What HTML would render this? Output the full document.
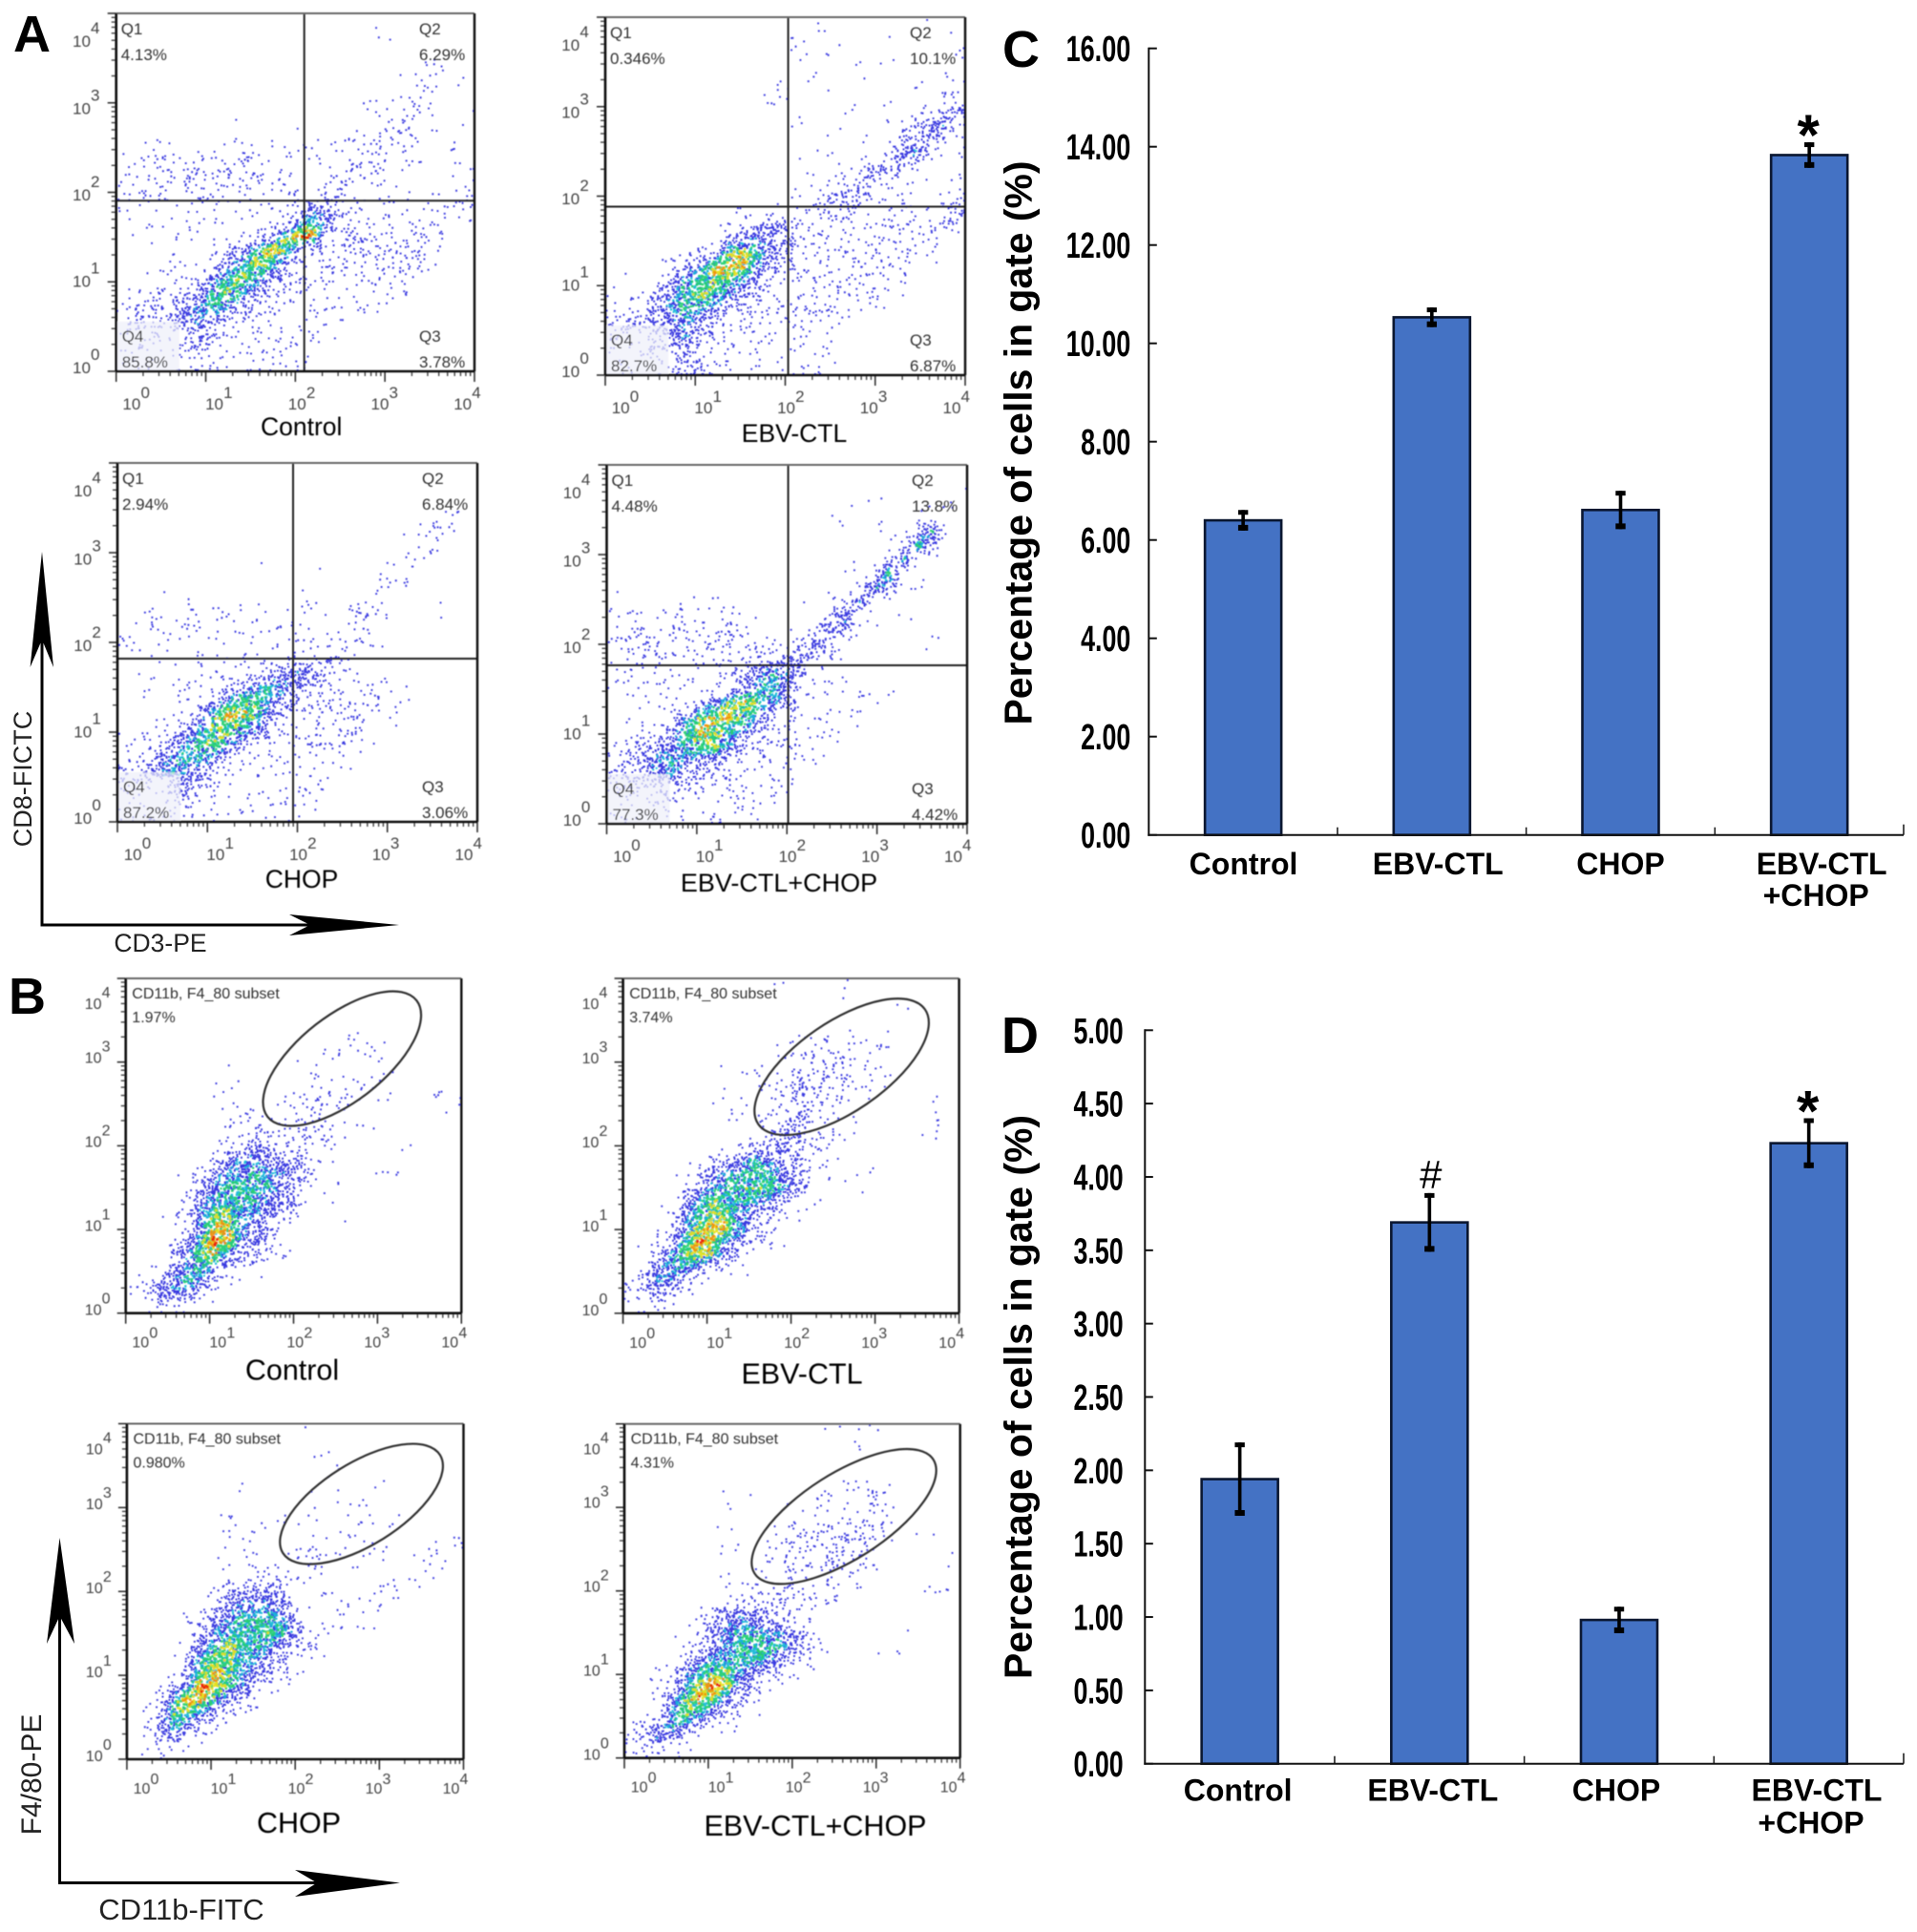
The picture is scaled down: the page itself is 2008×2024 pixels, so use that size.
<!DOCTYPE html>
<html lang="en">
<head>
<meta charset="utf-8">
<title>Flow cytometry panels and percentage bar charts</title>
<style>
html,body{margin:0;padding:0;background:#fff}
svg{display:block}
text{font-family:"Liberation Sans",Arial,sans-serif}
</style>
</head>
<body>
<svg id="figure" xmlns="http://www.w3.org/2000/svg" width="2008" height="2024" viewBox="0 0 2008 2024">
  <defs><filter id="soft" x="-5%" y="-5%" width="110%" height="110%"><feGaussianBlur stdDeviation="0.5"/></filter></defs>
  <rect width="2008" height="2024" fill="#fff"/>
  <text x="14" y="54" font-size="54" font-weight="700" fill="#000">A</text>
  <text x="9" y="1062" font-size="54" font-weight="700" fill="#000">B</text>
  <text x="1050" y="70" font-size="54" font-weight="700" fill="#000">C</text>
  <text x="1049" y="1103" font-size="54" font-weight="700" fill="#000">D</text>

  <g id="flow-plots" filter="url(#soft)"></g>

  <g fill="#000" stroke="none">
    <rect x="42.5" y="670" width="3" height="300"/>
    <rect x="42.5" y="967.5" width="283" height="3"/>
    <polygon points="44,578 56,699 44,670 31.6,699"/>
    <polygon points="418,969 303,958 325,969 303,980"/>
    <rect x="61" y="1693" width="3" height="281"/>
    <rect x="61" y="1971" width="271" height="3"/>
    <polygon points="62.5,1611 78,1722 62.5,1693 49,1722"/>
    <polygon points="419,1972.5 309,1959 332,1972.5 309,1987"/>
  </g>
  <text transform="translate(33,816) rotate(-90)" text-anchor="middle" font-size="27" fill="#222">CD8-FICTC</text>
  <text x="168" y="997" text-anchor="middle" font-size="26.5" fill="#222">CD3-PE</text>
  <text transform="translate(43,1859) rotate(-90)" text-anchor="middle" font-size="30" fill="#222">F4/80-PE</text>
  <text x="190" y="2011" text-anchor="middle" font-size="31" fill="#222">CD11b-FITC</text>

  <text transform="translate(1080.7,464) rotate(-90)" text-anchor="middle" font-size="41" font-weight="700" fill="#000" textLength="591" lengthAdjust="spacingAndGlyphs">Percentage of cells in gate (%)</text>
  <text transform="translate(1080.7,1463.5) rotate(-90)" text-anchor="middle" font-size="41" font-weight="700" fill="#000" textLength="591" lengthAdjust="spacingAndGlyphs">Percentage of cells in gate (%)</text>
  <g id="chart-c"></g>
  <g id="chart-d"></g>
</svg>
<script>
// ---------- Bar chart data ----------
const categories = ['Control', 'EBV-CTL', 'CHOP', 'EBV-CTL +CHOP'];
const chartCValues = [6.40, 10.53, 6.61, 13.83];
const chartCErrors = [0.21, 0.20, 0.39, 0.26];
const chartCTicks = ['0.00', '2.00', '4.00', '6.00', '8.00', '10.00', '12.00', '14.00', '16.00'];
const chartCMarks = ['', '', '', '*'];
const chartDValues = [1.94, 3.69, 0.98, 4.23];
const chartDErrors = [0.25, 0.20, 0.09, 0.17];
const chartDTicks = ['0.00', '0.50', '1.00', '1.50', '2.00', '2.50', '3.00', '3.50', '4.00', '4.50', '5.00'];
const chartDMarks = ['', '#', '', '*'];

// ---------- Flow plot data (density level per cell, top row first, 0-9) ----------
const logTickLabels = ['0', '1', '2', '3', '4'];
const quadrantNames = ['Q1', 'Q2', 'Q3', 'Q4'];
const densityA1 = [
"0000000000000000000000000","0000000000000000001000000","0000000000000000000000000",
"0000000000000000000001100","0000000000000000000011110","0000000000000000000012101",
"0000000000000000011122001","0000000010000001012220101","0000000000001000112211000",
"0011111121111101122210110","1122222222211111222211011","1122232222221112311110011",
"1122222222112123100110102","1111111111112443211111112","1011121111124652222222110",
"1001111112369932322222200","0011111236884222322322100","0001112467743222222222000",
"0011124676432222222210000","1122236764322111112100000","2332456542211111111000000",
"2333454322111111000000000","2221243111111111000000000","1111232111111100000000000",
"1111121111111100000000000"];
const densityA2 = [
"0000000000000011001000100","0000000000000100100100010","0000000000000101000010001",
"0000000000000110010100010","0000000000001010001001001","0000000000011001100100012",
"0000000000010100010011134","0000000000000100100113451","0000000000000001001134521",
"0000000000000101001245211","0000000000000010113431101","0000000000000111233210001",
"0000000000001113432111012","0000000001111122221121123","0000000012344212122222231",
"0000000145543222222222210","0000012478643222222222100","0000245888532222222221000",
"1002467765322222222210000","1113567653322222222100000","2234565432222222111000000",
"3334454322212211100000000","2223453222111111000000000","1112243111111111000000000",
"1111233111111110000000000"];
const densityA3 = [
"0000000000000000000000000","0000000000000000000000000","0000000000000000000000000",
"0000000000000000000000121","0000000000000000000001210","0000000000000000000012100",
"0000000000100000000121000","0000000000000100001210100","0000000000000000012110000",
"0010010100000100111100000","1111111111110101221000100","1111221111111111210000000",
"1111111111111112210000000","1011111111122232100000000","0111111111345421100000000",
"0011111245654321111100000","0011113577543222221100000","0011136887432222211000000",
"0111357765322222210000000","1113567642222222110000000","2235665321221211000000000",
"3346543211111111000000000","2223432111111110000000000","1112321111111100000000000",
"1111211111111100000000000"];
const densityA4 = [
"0000000000000000000000000","0000000000000000000000000","0000000000000000001000001",
"0000000000000000100001100","0000000000010000001003610","0000000000000000000027400",
"0000000000000000100261100","0000000000000000002710000","0000000000000000026401000",
"1000010110000001251000100","1111211111100103510010000","2222222222101124401000000",
"2222222222211353000000100","1222222212234421100000000","1111111123565310000000000",
"1111111124664211111100000","0111113578654111111000000","0111357886521111110000000",
"0012468765322121100000000","1234567752222111000000000","2345654422211110000000000",
"3345533221111100000000000","2232322111111000000000000","1112211111110000000000000",
"1111111111100000000000000"];
const densityB1 = [
"0000000000000000000000000","0000000000000000000000000","0000000000000000000000000",
"0000000000010000000000000","0000000001000000111000000","0000000010001001111000000",
"0000000100000111111100000","0000000100001111111000000","0000001000001121111100010",
"0000000101011222111000001","0000000011112221100000000","0000000112322221110000000",
"0000000234322101000010100","0000002455443201000000000","0000124556554311000100000",
"0000135666643101000000000","0000146666543100000000000","0001257755432001000000000",
"0000258854321000000000000","0012369854320000000000000","0002578533210000000000000",
"0013565321000000000000000","0235652100000000000000000","1245430000000000000000000",
"0111100000000000000000000"];
const densityB2 = [
"0000000000010010100000000","0000000000000000100010000","0000000000000000000000000",
"0000000000000000000000000","0000000000000111111100000","0000000000011222211100000",
"0000000101012223211010000","0000000000112322211100000","0000000100112322211000000",
"0000001010122322110000010","0000000011123321110000010","0000000011234321100000100",
"0000000012343321000001000","0000012346543211000000000","0000124566654311101000000",
"0000235667764310010000000","0001357666542110000000000","0002467754321000000000000",
"0012578864210000000000000","0023698543210000000000000","0125787431000000000000000",
"0246643210000000000000000","1355311000000000000000000","2343100000000000000000000",
"0110000000000000000000000"];
const densityB3 = [
"0000000000100100000000000","0000000000000000000000000","0000000000000010000000000",
"0000000000000001000000000","0000000010000010001000000","0000001000000101000000000",
"0000001100000110110000000","0000000101011001010100000","0000000011000010101000001",
"0000000111001101011000110","0000000111110110100001101","0000000112221100100011100",
"0000012344431010001111000","0000013455542100111100000","0000124566653101110000000",
"0000135666764211100000000","0001246766543211000000000","0001367765431110000000000",
"0002478754321000000000000","0013598653210000000000000","0026986421100000000000000",
"0137653210000000000000000","0246421000000000000000000","0243210000000000000000000",
"0111000000000000000000000"];
const densityB4 = [
"0000000000000001011000000","0000000000000000010000000","0000000000000000000000000",
"0000000000000000000000000","0000000000000000111100000","0000000101000011212100000",
"0000000000001121122100000","0000000100011212222100000","0000000000012222322100100",
"0000000110122223221000001","0000000000122222211000010","0000000100112222110000000",
"0000000011222111000000110","0000001233222110000000000","0000013454332100000000000",
"0000024566554200000001000","0000124566664310000000000","0001245666643110001010000",
"0012567754321100000000000","0012579843210000000000000","0024797432100000000000000",
"0125764321000000000000000","1346532100000000000000000","2353210000000000000000000",
"1211100000000000000000000"];
const percentsA1 = ['4.13%', '6.29%', '3.78%', '85.8%'];
const percentsA2 = ['0.346%', '10.1%', '6.87%', '82.7%'];
const percentsA3 = ['2.94%', '6.84%', '3.06%', '87.2%'];
const percentsA4 = ['4.48%', '13.8%', '4.42%', '77.3%'];
const gatePercents = ['1.97%', '3.74%', '0.980%', '4.31%'];

// ---------- Layout (not data) ----------
const svgNS = 'http://www.w3.org/2000/svg';
const flowPanels = [
 {id:'a1',kind:'A',title:'Control',tx:315.7,ty:456,L:121.7,R:497,T:14,B:389,V:318.7,H:210.3,grid:densityA1,pct:percentsA1},
 {id:'a2',kind:'A',title:'EBV-CTL',tx:832,ty:463,L:634,R:1011,T:18,B:393,V:825.6,H:216.5,grid:densityA2,pct:percentsA2},
 {id:'a3',kind:'A',title:'CHOP',tx:316,ty:930,L:123,R:500,T:485,B:861,V:307,H:690,grid:densityA3,pct:percentsA3},
 {id:'a4',kind:'A',title:'EBV-CTL+CHOP',tx:816,ty:934,L:635.5,R:1013,T:487,B:863,V:825.6,H:697,grid:densityA4,pct:percentsA4},
 {id:'b1',kind:'B',title:'Control',tx:306,ty:1445.7,L:131.7,R:483.3,T:1025,B:1375.7,grid:densityB1,pct:gatePercents[0],gate:[358.3,1109,99,45,-38]},
 {id:'b2',kind:'B',title:'EBV-CTL',tx:840,ty:1449.7,L:652.6,R:1004.6,T:1025,B:1375.8,grid:densityB2,pct:gatePercents[1],gate:[881.6,1117.6,106,47,-34.5]},
 {id:'b3',kind:'B',title:'CHOP',tx:313,ty:1920,L:132.9,R:485.5,T:1491.5,B:1843,grid:densityB3,pct:gatePercents[2],gate:[378.6,1575.6,97,43,-32]},
 {id:'b4',kind:'B',title:'EBV-CTL+CHOP',tx:854,ty:1923,L:654,R:1005.7,T:1491.7,B:1841.7,grid:densityB4,pct:gatePercents[3],gate:[884,1588.7,111,45,-32.5]}
];
const dotColors = ['#1c1cdc', '#18b8d8', '#28d070', '#e8e020', '#f09010', '#e82010'];
const levelCount = [0, 2, 5, 13, 28, 38, 42, 46, 50, 56];
const candidatesPerCell = 56;

function addLine(parent, x1, y1, x2, y2, stroke, width, name) {
  const e = document.createElementNS(svgNS, 'line');
  e.setAttribute('x1', x1);
  e.setAttribute('y1', y1);
  e.setAttribute('x2', x2);
  e.setAttribute('y2', y2);
  e.setAttribute('stroke', stroke);
  e.setAttribute('stroke-width', width);
  
  
  parent.appendChild(e);
  return e;
}
function addText(parent, x, y, str, size, fill, name) {
  const e = document.createElementNS(svgNS, 'text');
  e.setAttribute('x', x);
  e.setAttribute('y', y);
  e.setAttribute('font-size', size);
  e.setAttribute('fill', fill);
  
  
  e.textContent = str;
  parent.appendChild(e);
  return e;
}
function addRect(parent, x, y, w, h, fill, name) {
  const e = document.createElementNS(svgNS, 'rect');
  e.setAttribute('x', x);
  e.setAttribute('y', y);
  e.setAttribute('width', w);
  e.setAttribute('height', h);
  e.setAttribute('fill', fill);
  
  
  parent.appendChild(e);
  return e;
}
// fixed integer mixing so each dot keeps the same place inside its cell
function mixBits(a, b, c, d) {
  let h = Math.imul(a + 1, 73856093) ^ Math.imul(b + 1, 19349663) ^ Math.imul(c + 1, 83492791) ^ Math.imul(d + 1, 49979693);
  h ^= h >>> 13;
  h = Math.imul(h, 1274126177);
  h ^= h >>> 16;
  h = Math.imul(h, 2246822519);
  h ^= h >>> 13;
  return (h >>> 0) / 4294967296;
}
function cellLevel(grid, r, c) {
  if (r < 0) r = 0;
  if (r >= grid.length) r = grid.length - 1;
  if (c < 0) c = 0;
  if (c > 24) c = 24;
  return +(grid[r][c] || 0);
}
function levelAt(grid, fr, fc) {
  const r = Math.floor(fr - 0.5);
  const c = Math.floor(fc - 0.5);
  const tr = fr - 0.5 - r;
  const tc = fc - 0.5 - c;
  return (1 - tr) * ((1 - tc) * cellLevel(grid, r, c) + tc * cellLevel(grid, r, c + 1)) +
         tr * ((1 - tc) * cellLevel(grid, r + 1, c) + tc * cellLevel(grid, r + 1, c + 1));
}
function countAt(l) {
  const i = Math.min(Math.floor(l), 8);
  return levelCount[i] + (levelCount[i + 1] - levelCount[i]) * (l - i);
}
function colourIndex(l, u) {
  if (l < 4.6) return 0;
  if (l < 5.5) return u < 0.75 ? 0 : 1;
  if (l < 6.5) return u < 0.35 ? 0 : (u < 0.7 ? 1 : 2);
  if (l < 7.5) return u < 0.1 ? 0 : (u < 0.35 ? 1 : (u < 0.85 ? 2 : 3));
  if (l < 8.5) return u < 0.15 ? 1 : (u < 0.45 ? 2 : (u < 0.8 ? 3 : 4));
  return u < 0.15 ? 3 : (u < 0.55 ? 4 : 5);
}

function drawDensity(g, p, panelIndex) {
  const rows = p.grid.length;
  const cols = 25;
  const cw = (p.R - p.L) / cols;
  const ch = (p.B - p.T) / rows;
  const paths = dotColors.map(function () { return ''; });
  for (let r = 0; r < rows; r++) {
    for (let c = 0; c < cols; c++) {
      for (let k = 0; k < candidatesPerCell; k++) {
        const fc = c + mixBits(r, c, k, panelIndex * 4);
        const fr = r + mixBits(r, c, k, panelIndex * 4 + 1);
        const l = levelAt(p.grid, fr, fc);
        if (mixBits(r, c, k, panelIndex * 4 + 2) * candidatesPerCell >= countAt(l)) continue;
        const idx = colourIndex(l, mixBits(r, c, k, panelIndex * 4 + 3));
        const size = l >= 6 ? 2.6 : (l >= 5 ? 2.2 : 1.9);
        const x = Math.min(p.L + fc * cw, p.R - 2);
        const y = Math.min(p.T + fr * ch, p.B - 2);
        paths[idx] += 'M' + x.toFixed(1) + ' ' + y.toFixed(1) + 'h' + size + 'v' + size + 'h-' + size + 'z';
      }
    }
  }
  const dots = document.createElementNS(svgNS, 'g');
  
  
  paths.forEach(function (d, i) {
    if (!d) return;
    const e = document.createElementNS(svgNS, 'path');
    e.setAttribute('d', d);
    e.setAttribute('fill', dotColors[i]);
    e.setAttribute('fill-opacity', i === 0 ? '0.88' : '0.95');
    
    
    dots.appendChild(e);
  });
  g.appendChild(dots);
}

function drawFlowAxes(g, p) {
  const isA = p.kind === 'A';
  const dx = (p.R - p.L) / 4;
  const dy = (p.B - p.T) / 4;
  for (let d = 0; d <= 4; d++) {
    addLine(g, p.L + d * dx, p.B, p.L + d * dx, p.B + 11, '#333', 1.6, 'x-major-tick');
    addLine(g, p.L, p.B - d * dy, p.L - 9, p.B - d * dy, '#333', 1.6, 'y-major-tick');
    if (d < 4) {
      for (let m = 2; m <= 9; m++) {
        const off = Math.log10(m);
        addLine(g, p.L + (d + off) * dx, p.B, p.L + (d + off) * dx, p.B + 5, '#444', 1.4, 'x-minor-tick');
        addLine(g, p.L, p.B - (d + off) * dy, p.L - 5, p.B - (d + off) * dy, '#444', 1.4, 'y-minor-tick');
      }
    }
    // x tick label
    const size = isA ? 17 : 16;
    const step = isA ? 86.7 : 81;
    const lx = p.L + 6.7 + d * step;
    const lb = p.B + (isA ? 40 : 36);
    addText(g, lx, lb, '10', size, '#444', 'x-tick-base');
    addText(g, lx + size * 1.12, lb - (isA ? 12 : 10), logTickLabels[d], size, '#444', 'x-tick-exponent');
    // y tick label
    const ystep = isA ? 90.5 : 88;
    const yb = Math.max(p.B + 2 - d * ystep, p.T + (isA ? 35 : 32));
    const yx = p.L - (isA ? 45.7 : 43);
    addText(g, yx, yb, '10', size, '#444', 'y-tick-base');
    addText(g, yx + size * 1.12, yb - (isA ? 14 : 12), logTickLabels[d], size, '#444', 'y-tick-exponent');
  }
  // frame
  addLine(g, p.L, p.T, p.R, p.T, '#666', 2, 'plot-top-border');
  addLine(g, p.L, p.T, p.L, p.B, '#111', 2.6, 'plot-left-border');
  addLine(g, p.L, p.B, p.R, p.B, '#111', 2.6, 'plot-bottom-border');
  addLine(g, p.R, p.T, p.R, p.B, '#111', 2.4, 'plot-right-border');
}

flowPanels.forEach(function (p, panelIndex) {
  const root = document.getElementById('flow-plots');
  const g = document.createElementNS(svgNS, 'g');
  
  
  root.appendChild(g);
  drawDensity(g, p, panelIndex);
  if (p.kind === 'A') {
    const box = addRect(g, p.L + 1, p.B - 52, 65, 51, '#eef0fa', 'q4-pale-box');
    box.setAttribute('fill-opacity', '0.72');
    addLine(g, p.V, p.T, p.V, p.B, '#222', 2, 'quadrant-vertical');
    addLine(g, p.L, p.H, p.R, p.H, '#222', 2, 'quadrant-horizontal');
    addText(g, p.L + 5, p.T + 22, quadrantNames[0], 17, '#333', 'q1-label');
    addText(g, p.L + 5, p.T + 49, p.pct[0], 17, '#333', 'q1-percent');
    addText(g, p.R - 58, p.T + 22, quadrantNames[1], 17, '#333', 'q2-label');
    addText(g, p.R - 58, p.T + 49, p.pct[1], 17, '#333', 'q2-percent');
    addText(g, p.R - 58, p.B - 31, quadrantNames[2], 17, '#333', 'q3-label');
    addText(g, p.R - 58, p.B - 4, p.pct[2], 17, '#333', 'q3-percent');
    addText(g, p.L + 6, p.B - 31, quadrantNames[3], 17, '#333', 'q4-label');
    addText(g, p.L + 6, p.B - 4, p.pct[3], 17, '#333', 'q4-percent');
  } else {
    const el = document.createElementNS(svgNS, 'ellipse');
    el.setAttribute('cx', p.gate[0]);
    el.setAttribute('cy', p.gate[1]);
    el.setAttribute('rx', p.gate[2]);
    el.setAttribute('ry', p.gate[3]);
    el.setAttribute('transform', 'rotate(' + p.gate[4] + ' ' + p.gate[0] + ' ' + p.gate[1] + ')');
    el.setAttribute('fill', 'none');
    el.setAttribute('stroke', '#333');
    el.setAttribute('stroke-width', '2.2');
    
    
    g.appendChild(el);
    addText(g, p.L + 6.6, p.T + 21, 'CD11b, F4_80 subset', 16, '#333', 'gate-name');
    addText(g, p.L + 6.6, p.T + 46, p.pct, 16, '#333', 'gate-percent');
  }
  drawFlowAxes(g, p);
  const size = p.kind === 'A' ? (p.title === 'EBV-CTL+CHOP' ? 27 : 26.5) : 30.5;
  const t = addText(g, p.tx, p.ty, p.title, size, '#000', 'sample-label');
  t.setAttribute('text-anchor', 'middle');
});

// ---------- Bar charts ----------
function drawBarChart(root, cfg) {
  const catW = (cfg.right - cfg.axisX) / cfg.categories.length;
  const unit = (cfg.y0 - cfg.yTop) / cfg.max;
  const xScale = function (i) { return cfg.axisX + (i + 0.5) * catW; };
  const yScale = function (v) { return cfg.y0 - v * unit; };

  cfg.ticks.forEach(function (label) {
    const v = parseFloat(label);
    addLine(root, cfg.axisX, yScale(v), cfg.axisX + 8.5, yScale(v), '#111', 2, 'y-tick');
    const t = addText(root, cfg.labelRight, yScale(v) + 13.5, label, 38, '#000', 'y-tick-label');
    t.setAttribute('font-weight', '700');
    t.setAttribute('text-anchor', 'end');
    t.setAttribute('textLength', label.length === 5 ? 67.7 : 52.2);
    t.setAttribute('lengthAdjust', 'spacingAndGlyphs');
  });
  cfg.categories.forEach(function (name, i) {
    const cx = xScale(i);
    const top = yScale(cfg.values[i]);
    const bar = addRect(root, cx - 40, top, 80, cfg.y0 - top, '#4472c4', 'bar-' + name.toLowerCase().replace(/[^a-z]+/g, '-'));
    bar.setAttribute('stroke', '#0a1630');
    bar.setAttribute('stroke-width', '2.6');
    const hi = yScale(cfg.values[i] + cfg.errors[i]);
    const lo = yScale(cfg.values[i] - cfg.errors[i]);
    addRect(root, cx - 1.8, hi, 3.6, lo - hi, '#000', 'error-bar-stem');
    addRect(root, cx - 5.2, hi, 10.4, 5, '#000', 'error-bar-top-cap');
    addRect(root, cx - 5.2, lo - 6, 10.4, 6, '#000', 'error-bar-bottom-cap');
    const parts = name.split(' ');
    parts.forEach(function (part, j) {
      const t = addText(root, cx + cfg.labelNudge[i] - j * 6, cfg.labelY + j * cfg.labelLead, part, 32, '#000', 'category-label');
      t.setAttribute('font-weight', '700');
      t.setAttribute('text-anchor', 'middle');
    });
    const mark = cfg.marks[i];
    if (mark === '*') {
      const s = addText(root, cx - 1, hi + 13, mark, 60, '#000', 'significance-star');
      s.setAttribute('font-weight', '700');
      s.setAttribute('text-anchor', 'middle');
    } else if (mark === '#') {
      const s = addText(root, cx + 1.5, hi - 5, mark, 42, '#000', 'significance-hash');
      s.setAttribute('text-anchor', 'middle');
    }
    if (i > 0) {
      addLine(root, cfg.axisX + i * catW, cfg.y0, cfg.axisX + i * catW, cfg.y0 - 8, '#222', 1.6, 'x-tick');
    }
  });
  addLine(root, cfg.right, cfg.y0, cfg.right, cfg.y0 - 11, '#222', 1.6, 'x-tick-end');
  addLine(root, cfg.axisX, cfg.yTop - 1, cfg.axisX, cfg.y0 + 1, '#111', 2, 'y-axis-line');
  addLine(root, cfg.axisX - 1, cfg.y0, cfg.right, cfg.y0, '#111', 2, 'x-axis-line');
}

drawBarChart(document.getElementById('chart-c'), {
  categories: categories, values: chartCValues, errors: chartCErrors, ticks: chartCTicks, marks: chartCMarks,
  axisX: 1203.3, right: 1994, y0: 874.7, yTop: 50.7, max: 16, labelRight: 1184.3,
  labelNudge: [0.4, 6.4, 0, 13], labelY: 916, labelLead: 33
});
drawBarChart(document.getElementById('chart-d'), {
  categories: categories, values: chartDValues, errors: chartDErrors, ticks: chartDTicks, marks: chartDMarks,
  axisX: 1199.3, right: 1994, y0: 1847.7, yTop: 1079.3, max: 5, labelRight: 1176.7,
  labelNudge: [-2, 3.5, -3, 8.3], labelY: 1886.7, labelLead: 34
});
</script>
</body>
</html>
